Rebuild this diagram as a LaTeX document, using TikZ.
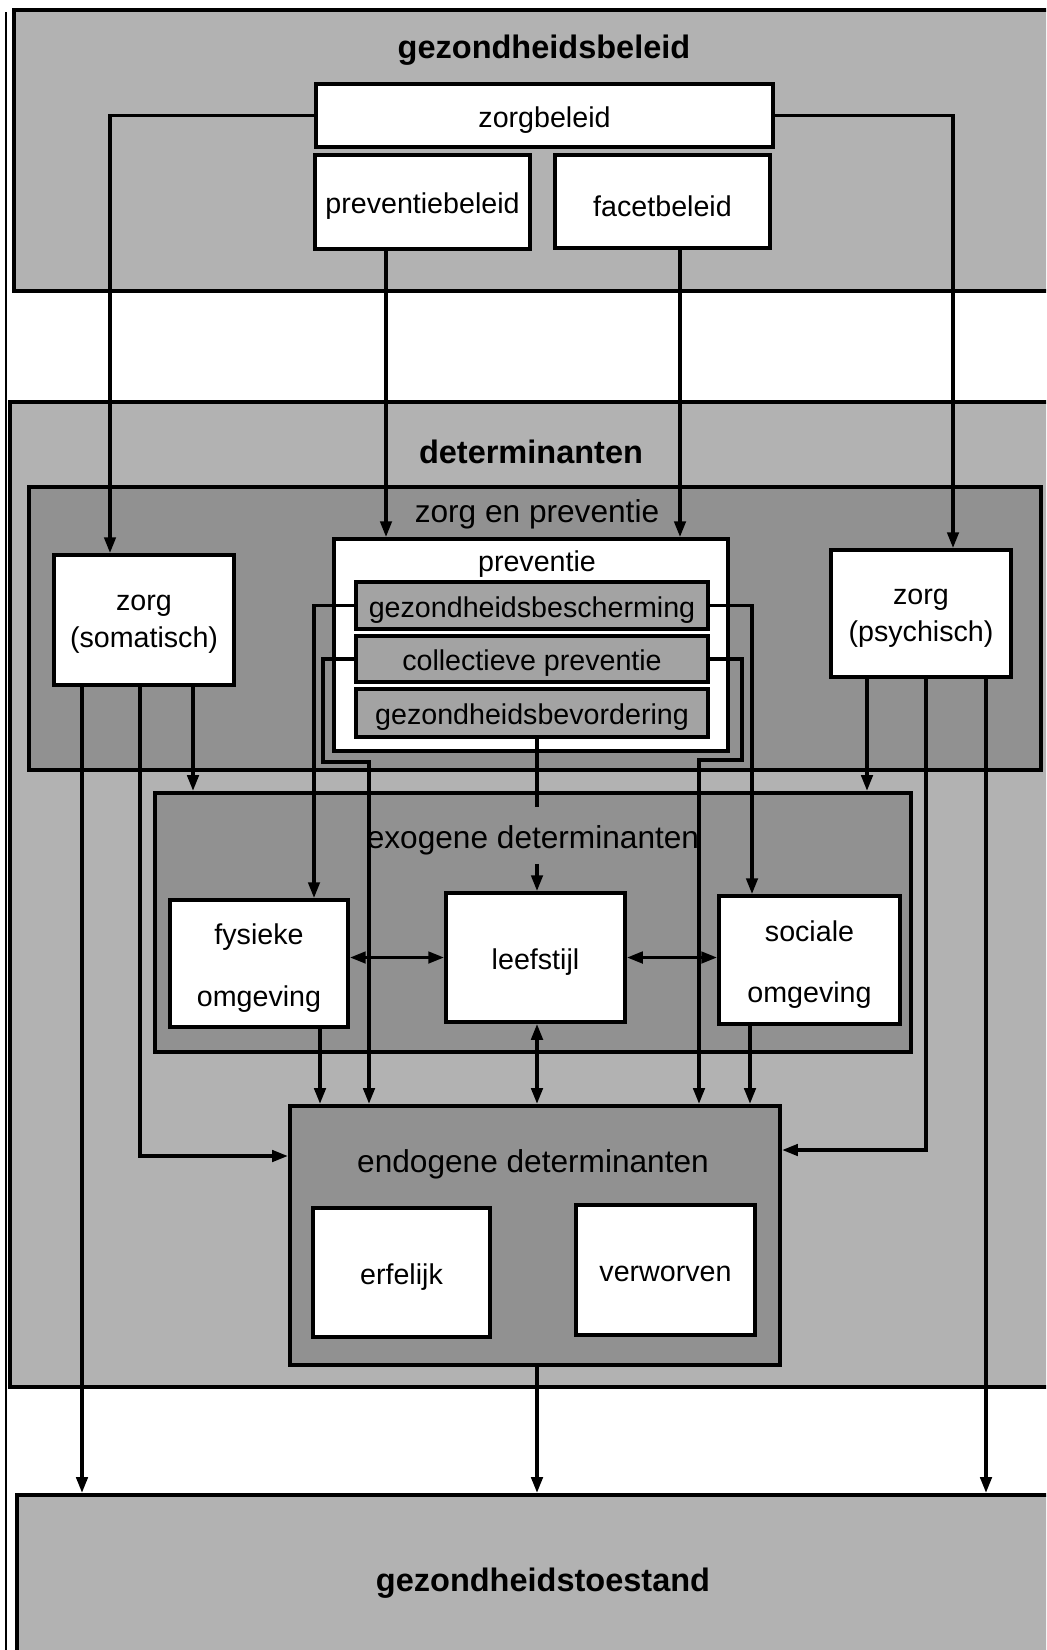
\documentclass[tikz,border=0pt]{standalone}
\usepackage{fontspec}
\setmainfont{Liberation Sans}
\usetikzlibrary{arrows.meta,fit}

\begin{document}
\begin{tikzpicture}[x=0.02cm,y=-0.02cm,
  paneel/.style={draw,line width=2.4pt,fill=black!30,inner sep=0pt},
  donker/.style={paneel,fill=black!43},
  tekst/.style={inner sep=0pt,align=center,yshift=-2.5pt,font=\fontsize{16.3}{21}\selectfont},
  vak/.style={draw,line width=2.2pt,fill=white,inner sep=0pt},
  subvak/.style={vak,fill=black!36},
  kop/.style={inner sep=0pt,font=\fontsize{18.5}{22}\selectfont\bfseries},
  subkop/.style={inner sep=0pt,font=\fontsize{18}{22}\selectfont},
  pijl/.style={line width=1.9pt,-{Triangle[length=9pt,width=6.5pt]}},
  dubbel/.style={line width=1.9pt,{Triangle[length=9pt,width=6.5pt]}-{Triangle[length=9pt,width=6.5pt]}}]
\clip (0,0) rectangle (1046,1650);
\draw[line width=1.4pt] (6,12) -- (6,1650);

% gezondheidsbeleid
\node[paneel,fit={(14,10) (1070,291)}] (beleid) {};
\node[kop] (beleidkop) at (544,50) {gezondheidsbeleid};
\node[vak,fit={(316,84) (773,147)},label={[tekst]center:zorgbeleid}] (zorgbel) {};
\node[vak,fit={(315,155) (530,249)},label={[tekst]center:preventiebeleid}] (prevbel) {};
\node[vak,fit={(555,155) (770,248)},label={[tekst]center:facetbeleid}] (facetbel) {};

% determinanten
\node[paneel,fit={(10,402) (1070,1387)}] (det) {};
\node[kop] (detkop) at (531,452) {determinanten};
\node[donker,fit={(29,487) (1041,770)}] (zep) {};
\node[subkop] (zepkop) at (537,514) {zorg en preventie};
\node[vak,fit={(54,555) (234,685)},label={[tekst]center:zorg\\(somatisch)}] (somat) {};
\node[vak,fit={(831,550) (1011,677)},label={[tekst]center:zorg\\(psychisch)}] (psych) {};
\node[vak,fit={(334,539) (728,751)}] (prev) {};
\node[tekst] (prevkop) at (537,560) {preventie};
\node[subvak,fit={(356,582) (708,629)},label={[tekst]center:gezondheidsbescherming}] (besch) {};
\node[subvak,fit={(356,636) (708,682)},label={[tekst]center:collectieve preventie}] (coll) {};
\node[subvak,fit={(356,689) (708,737)},label={[tekst]center:gezondheidsbevordering}] (bevord) {};

\node[donker,fit={(155,793) (911,1052)}] (exo) {};
\node[subkop] (exokop) at (533,840) {exogene determinanten};
\node[vak,fit={(170,900) (348,1027)},label={[tekst]center:fysieke\\[14pt]omgeving}] (fys) {};
\node[vak,fit={(446,893) (625,1022)},label={[tekst]center:leefstijl}] (leef) {};
\node[vak,fit={(719,896) (900,1024)},label={[tekst]center:sociale\\[14pt]omgeving}] (soc) {};

\node[donker,fit={(290,1106) (780,1365)}] (endo) {};
\node[subkop] (endokop) at (533,1164) {endogene determinanten};
\node[vak,fit={(313,1208) (490,1337)},label={[tekst]center:erfelijk}] (erf) {};
\node[vak,fit={(576,1205) (755,1335)},label={[tekst]center:verworven}] (verw) {};

% gezondheidstoestand
\node[paneel,fit={(17,1495) (1070,1700)}] (toest) {};
\node[kop] (toestkop) at (543,1583) {gezondheidstoestand};

% lijnen
\coordinate (a1) at (110,0);
\coordinate (a2) at (953,0);
\coordinate (a3) at (386,0);
\coordinate (a4) at (680,0);
\coordinate (a5) at (314,0);
\coordinate (a6) at (752,0);
\coordinate (a7) at (537,0);
\coordinate (a8) at (320,0);
\coordinate (a9) at (750,0);
\coordinate (a10) at (82,0);
\coordinate (a11) at (140,0);
\coordinate (a12) at (193,0);
\coordinate (a13) at (867,0);
\coordinate (a14) at (926,0);
\coordinate (a15) at (986,0);
\coordinate (b1) at (323,762);
\coordinate (b2) at (369,762);
\coordinate (b3) at (742,760);
\coordinate (b4) at (699,760);
\coordinate (c1) at (0,1156);
\coordinate (c2) at (0,1150);

\draw[pijl] (zorgbel.west) -| (somat.north -| a1);
\draw[pijl] (zorgbel.east) -| (psych.north -| a2);
\draw[pijl] (prevbel.south -| a3) -- (prev.north -| a3);
\draw[pijl] (facetbel.south -| a4) -- (prev.north -| a4);
\draw[pijl] (besch.west) -| (fys.north -| a5);
\draw[pijl] (besch.east) -| (soc.north -| a6);
\draw[pijl] (coll.west) -| (b1) -- (b2) -- (endo.north -| b2);
\draw[pijl] (coll.east) -| (b3) -- (b4) -- (endo.north -| b4);
\draw[line width=1.9pt,shorten >=10pt] (bevord.south -| a7) -- (exokop.north -| a7);
\draw[pijl,shorten <=5pt] (exokop.south -| a7) -- (leef.north -| a7);
\draw[dubbel] (leef.west -| fys.east) -- (leef.west);
\draw[dubbel] (leef.east) -- (leef.east -| soc.west);
\draw[dubbel] (leef.south -| a7) -- (endo.north -| a7);
\draw[pijl] (fys.south -| a8) -- (endo.north -| a8);
\draw[pijl] (soc.south -| a9) -- (endo.north -| a9);
\draw[pijl] (somat.south -| a10) -- (toest.north -| a10);
\draw[pijl] (somat.south -| a11) |- (endo.west |- c1);
\draw[pijl] (somat.south -| a12) -- (exo.north -| a12);
\draw[pijl] (psych.south -| a13) -- (exo.north -| a13);
\draw[pijl] (psych.south -| a14) |- (endo.east |- c2);
\draw[pijl] (psych.south -| a15) -- (toest.north -| a15);
\draw[pijl] (endo.south -| a7) -- (toest.north -| a7);
\end{tikzpicture}
\end{document}
